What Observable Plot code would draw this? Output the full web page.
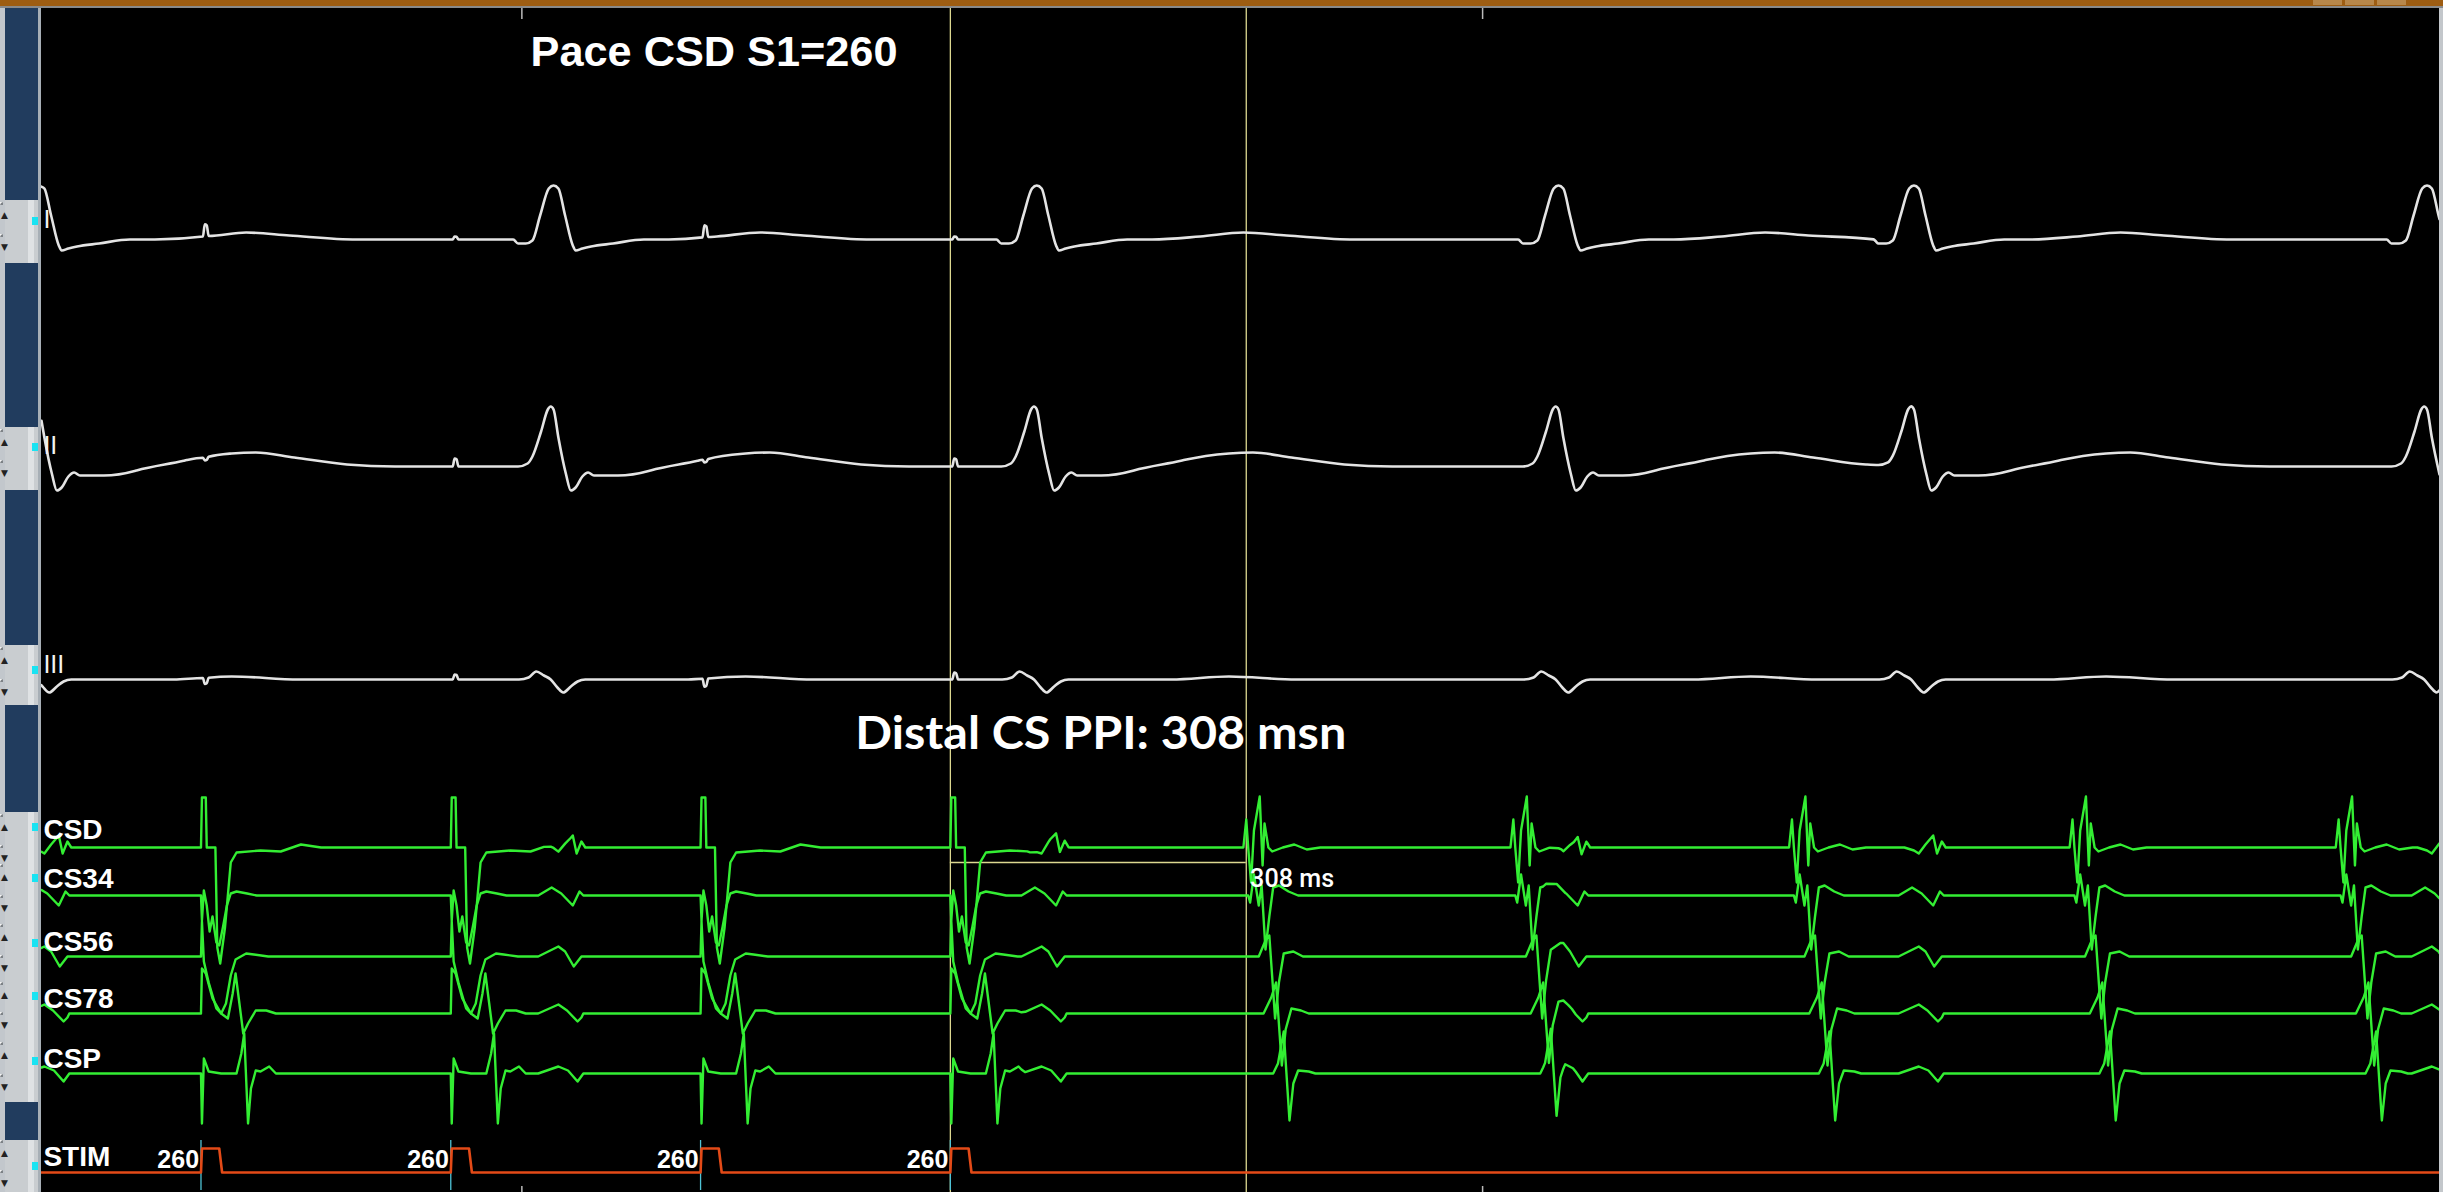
<!DOCTYPE html>
<html><head><meta charset="utf-8">
<script src="https://cdn.jsdelivr.net/npm/d3@7"></script>
<script src="https://cdn.jsdelivr.net/npm/@observablehq/plot@0.6"></script>
<style>
html,body{margin:0;padding:0;background:#000;overflow:hidden}
#wrap{position:relative;width:2443px;height:1192px;background:#000}
#chart{position:absolute;left:0;top:0}
.ov{position:absolute;box-sizing:border-box}
.btn{position:absolute;left:8px;width:19px;height:26px;background:#d6d8da;border-top:1px solid #f4f4f4;border-left:1px solid #f4f4f4;border-right:2px solid #7d8286;border-bottom:2px solid #7d8286;font:9px "DejaVu Sans";color:#222;text-align:center;line-height:24px}
</style></head><body><div id="wrap"><div id="chart"></div></div>
<script>
// ---------------- data (times in ms, amplitudes in display units, + = up) ----------------
const T_END = 2496;
const channels      = ["I", "II", "III", "CSD", "CS34", "CS56", "CS78", "CSP", "STIM"];
const laneOffsets   = [239, 466, 679, 847, 895, 956, 1013, 1073, 1172];
const labelBaseline = [227, 453, 672, 838, 887, 950, 1007, 1067, 1165];

const stimTimes   = [166, 426, 686, 946];          // S1 = 260 ms
const stimLabels  = ["260", "260", "260", "260"];
const returnTimes = [1251, 1529, 1819, 2111, 2388]; // CSD activation after pacing stops
const qrsTimes    = [-2, 533, 1036, 1579, 1949, 2483];
const cursorTimes = [946, 1254];                    // PPI 308 ms
const measureLevel = [-862];
const tickTimes   = [500, 1500];

// surface ECG templates [dt ms, amplitude]
const qrsI    = [[-42,0],[-37,-4],[-29,-4],[-22,-1],[-14,24],[-5,51],[0,54],[5,51],[12,24],[20,-6],[23,-11],[30,-9],[39,-7],[62,-4],[94,0]];
const tWaveI  = [[120,0],[170,3],[215,7],[260,4],[330,0]];
const qrsII   = [[-37,0],[-27,3],[-22,10],[-13,35],[-6,57],[-3,60],[0,57],[5,29],[13,-8],[18,-24],[23,-21],[30,-10],[36,-6],[42,-9],[67,-9],[101,-4],[153,0]];
const tWaveII = [[100,0],[150,6],[200,13],[225,14],[265,9],[320,2],[370,0]];
const qrsIII  = [[-36,0],[-26,2],[-18,8],[-10,4],[-3,0],[4,-8],[10,-13],[18,-7],[25,-2],[33,0]];
const tWaveIII= [[140,0],[200,3],[270,0]];
const artifactShape = [[2,0],[4,1],[6,0.9],[8,0]];
const artifactI   = [12, 3, 12, 3];
const artifactII  = [-3, 8, -3, 8];
const artifactIII = [-6, 5, -8, 7];

// coronary sinus: paced complexes (from stimulus)
const pacedCSD  = [[0,0],[1,50],[5,50],[6,0],[15,0],[17,-100],[20,-116],[25,-80],[31,-15],[34,-10],[37,-5],[62,-3],[83,-4],[104,3],[125,0]];
const pacedCS34 = [[0,0],[1,-25],[3,5],[6,-10],[9,-36],[12,-21],[16,-47],[19,-50],[23,-31],[27,-10],[31,2],[37,4],[48,2],[58,0]];
const pacedCS56 = [[0,0],[1,35],[3,-5],[8,-26],[16,-52],[21,-57],[26,-47],[31,-19],[36,-3],[47,3],[55,2],[70,0]];
const pacedCS78 = [[0,0],[1,45],[5,40],[12,15],[21,0],[28,-5],[33,20],[36,40],[40,10],[44,-20],[49,-10],[57,3],[68,3],[78,0]];
const pacedCSP  = [[0,0],[1,-50],[3,15],[8,2],[21,0],[37,0],[42,20],[45,40],[49,-50],[52,-15],[57,3],[62,2],[71,7],[78,0]];
// coronary sinus: return (tachycardia) complexes (from CSD onset)
const returnCSD  = [[0,0],[3,28],[5,0],[8,-35],[11,17],[17,51],[20,-18],[22,24],[26,0],[30,-4],[41,0],[53,3],[66,-2],[80,0]];
const returnCS34 = [[0,0],[5,0],[7,-7],[11,21],[16,-10],[19,10],[23,-54],[27,-21],[31,8],[37,10],[47,4],[57,0]];
const returnCS56 = [[0,0],[16,0],[23,16],[27,21],[33,-62],[37,-26],[42,3],[52,5],[62,0]];
const returnCS78 = [[0,0],[21,0],[29,16],[34,31],[40,-52],[44,-16],[50,5],[60,3],[68,0]];
const returnCSP  = [[0,0],[31,0],[36,10],[42,42],[48,-47],[52,-10],[57,3],[68,2],[75,0]];
// coronary sinus: far-field ventricular signal (from QRS)
const farCSD  = [[-10,0],[0,-3],[5,-6],[12,3],[20,12],[24,-6],[29,6],[33,0]];
const farCS34 = [[-16,0],[-2,8],[8,2],[20,-10],[24,-2],[27,4],[31,0]];
const farCS56 = [[-16,0],[5,10],[12,5],[21,-10],[25,-5],[29,0]];
const farCS78 = [[-16,0],[5,9],[14,3],[25,-8],[29,-4],[31,0]];
const farCSP  = [[-16,0],[5,7],[15,3],[25,-8],[31,0]];
// stimulus channel
const stimPulse = [[0,0],[1,24],[19,24],[22,0]];

const titleText = "Pace CSD S1=260";
const ppiText   = "Distal CS PPI: 308 msn";
const measText  = "308 ms";

// ---------------- build traces ----------------
function evalTpl(tpl, dt) {
  if (dt < tpl[0][0] || dt > tpl[tpl.length - 1][0]) return 0;
  for (let i = 1; i < tpl.length; i++) {
    if (dt <= tpl[i][0]) {
      const [t0, v0] = tpl[i - 1], [t1, v1] = tpl[i];
      return v0 + (v1 - v0) * (dt - t0) / (t1 - t0);
    }
  }
  return 0;
}
function ev(times, tpl, ks) { return times.map((t0, i) => ({t0, tpl, k: ks ? ks[i] : 1})); }
function buildTrace(ci, events) {
  const ts = new Set([0, T_END]);
  for (const e of events) for (const [dt] of e.tpl) {
    const t = e.t0 + dt;
    if (t > 0 && t < T_END) ts.add(+t.toFixed(3));
  }
  const lane = laneOffsets[ci];
  return [...ts].sort((a, b) => a - b).map(t => ({
    ch: channels[ci], t,
    v: -lane + events.reduce((s, e) => s + e.k * evalTpl(e.tpl, t - e.t0), 0)
  }));
}
const surface = [
  ...buildTrace(0, [...ev(qrsTimes, qrsI), ...ev(qrsTimes, tWaveI), ...ev(stimTimes, artifactShape, artifactI)]),
  ...buildTrace(1, [...ev(qrsTimes, qrsII), ...ev(qrsTimes, tWaveII), ...ev(stimTimes, artifactShape, artifactII)]),
  ...buildTrace(2, [...ev(qrsTimes, qrsIII), ...ev(qrsTimes, tWaveIII), ...ev(stimTimes, artifactShape, artifactIII)])
];
const cs = [
  ...buildTrace(3, [...ev(stimTimes, pacedCSD),  ...ev(returnTimes, returnCSD),  ...ev(qrsTimes, farCSD)]),
  ...buildTrace(4, [...ev(stimTimes, pacedCS34), ...ev(returnTimes, returnCS34), ...ev(qrsTimes, farCS34)]),
  ...buildTrace(5, [...ev(stimTimes, pacedCS56), ...ev(returnTimes, returnCS56), ...ev(qrsTimes, farCS56)]),
  ...buildTrace(6, [...ev(stimTimes, pacedCS78), ...ev(returnTimes, returnCS78), ...ev(qrsTimes, farCS78)]),
  ...buildTrace(7, [...ev(stimTimes, pacedCSP),  ...ev(returnTimes, returnCSP),  ...ev(qrsTimes, farCSP)])
];
const stim = buildTrace(8, ev(stimTimes, stimPulse));

const labels = channels.map((c, i) => ({c, y: -labelBaseline[i], big: i > 2}));

const chart = Plot.plot({
  width: 2443, height: 1192, margin: 0,
  style: {background: "#000", overflow: "visible"},
  x: {domain: [0, T_END], range: [41, 2439], axis: null},
  y: {domain: [-1192, 0], range: [1192, 0], axis: null},
  marks: [
    Plot.ruleX(tickTimes, {x: d => d, y1: -8, y2: -19, stroke: "#bbbbbb", strokeWidth: 1.5}),
    Plot.ruleX(tickTimes, {x: d => d, y1: -1186, y2: -1192, stroke: "#bbbbbb", strokeWidth: 1.5}),
    Plot.ruleX(cursorTimes, {x: d => d, y1: -8, y2: -1192, stroke: "#dcd890", strokeWidth: 1.3}),
    Plot.ruleY(measureLevel, {y: d => d, x1: cursorTimes[0], x2: cursorTimes[1], stroke: "#dcd890", strokeWidth: 1.3}),
    Plot.ruleX(stimTimes, {x: d => d, y1: -1140, y2: -1190, stroke: "#4fc3d6", strokeWidth: 1.3}),
    Plot.line(surface, {x: "t", y: "v", z: "ch", stroke: "#e4e4e4", strokeWidth: 2.6, curve: "monotone-x"}),
    Plot.line(cs, {x: "t", y: "v", z: "ch", stroke: "#33ee33", strokeWidth: 2.4, curve: "linear", strokeLinejoin: "round"}),
    Plot.line(stim, {x: "t", y: "v", z: "ch", stroke: "#e34a17", strokeWidth: 2.6, curve: "linear"}),
    Plot.text(labels.filter(d => d.big), {x: 2, y: "y", text: "c", textAnchor: "start", lineAnchor: "bottom",
      fill: "#fff", fontSize: 28, fontWeight: "bold", fontFamily: "Liberation Sans, Arial, sans-serif"}),
    Plot.text(labels.filter(d => !d.big), {x: 2, y: "y", text: "c", textAnchor: "start", lineAnchor: "bottom",
      fill: "#f2f2f2", fontSize: 25, fontFamily: "Liberation Sans, Arial, sans-serif"}),
    Plot.text(stimTimes, {x: d => d - 2, y: -1167, text: (d, i) => stimLabels[i], textAnchor: "end", lineAnchor: "bottom",
      fill: "#fff", fontSize: 25, fontWeight: "bold", fontFamily: "Liberation Sans, Arial, sans-serif"}),
    Plot.text([titleText], {x: 509, y: -65, text: d => d, textAnchor: "start", lineAnchor: "bottom",
      fill: "#fff", fontSize: 43, fontWeight: "bold", fontFamily: "Liberation Sans, Arial, sans-serif"}),
    Plot.text([ppiText], {x: 847, y: -748, text: d => d, textAnchor: "start", lineAnchor: "bottom",
      fill: "#fff", fontSize: 46, fontWeight: "bold", fontFamily: "Lato, sans-serif"}),
    Plot.text([measText], {x: cursorTimes[1] + 4, y: -886, text: d => d, textAnchor: "start", lineAnchor: "bottom",
      fill: "#fff", fontSize: 25, fontWeight: 500, fontFamily: "Roboto, sans-serif"})
  ]
});
const fit = {[titleText]: 367, [ppiText]: 491, [measText]: 84};
chart.querySelectorAll("text").forEach(t => {
  const w = fit[t.textContent];
  if (w) { t.setAttribute("textLength", w); t.setAttribute("lengthAdjust", "spacingAndGlyphs"); }
});
const wrap = document.getElementById("wrap");
document.getElementById("chart").appendChild(chart);

// ---------------- window chrome (decoration) ----------------
function box(l, t, w, h, bg, extra) {
  const d = document.createElement("div");
  d.className = "ov";
  Object.assign(d.style, {left: l + "px", top: t + "px", width: w + "px", height: h + "px", background: bg}, extra || {});
  wrap.appendChild(d); return d;
}
box(0, 0, 2443, 6, "#9e5d12");
[2313, 2345, 2377].forEach(l => box(l, 0, 29, 5, "#b8874a"));
box(0, 6, 2443, 2, "#8a8a8a");
box(0, 8, 41, 1184, "#213c5e");
box(0, 8, 5, 1184, "#c2c7cc");
box(38, 8, 3, 1184, "#a7afb6");
box(2439, 8, 4, 1184, "#c3c7cb");
const groups = [[200, 63], [427, 63], [645, 60], [812, 290], [1140, 52]];
groups.forEach(([t, h]) => { box(5, t, 33, h, "#c9cdd0"); box(28, t, 6, h, "#dfe2e4"); });
const arrowsUp = [215, 442, 660, 827, 877, 937, 995, 1055, 1153];
const arrowsDn = [247, 473, 692, 858, 908, 968, 1025, 1087, 1183];
arrowsUp.forEach(y => { const b = box(0, y - 13, 0, 0, "none"); b.className = "btn"; b.style.top = (y - 13) + "px"; b.textContent = "▲"; });
arrowsDn.forEach(y => { const b = box(0, y - 13, 0, 0, "none"); b.className = "btn"; b.style.top = (y - 13) + "px"; b.textContent = "▼"; });
const dotY = [221, 447, 670, 827, 878, 943, 996, 1061, 1166];
dotY.forEach(y => box(32, y - 4, 6, 8, "#19e3f2"));
</script></body></html>
